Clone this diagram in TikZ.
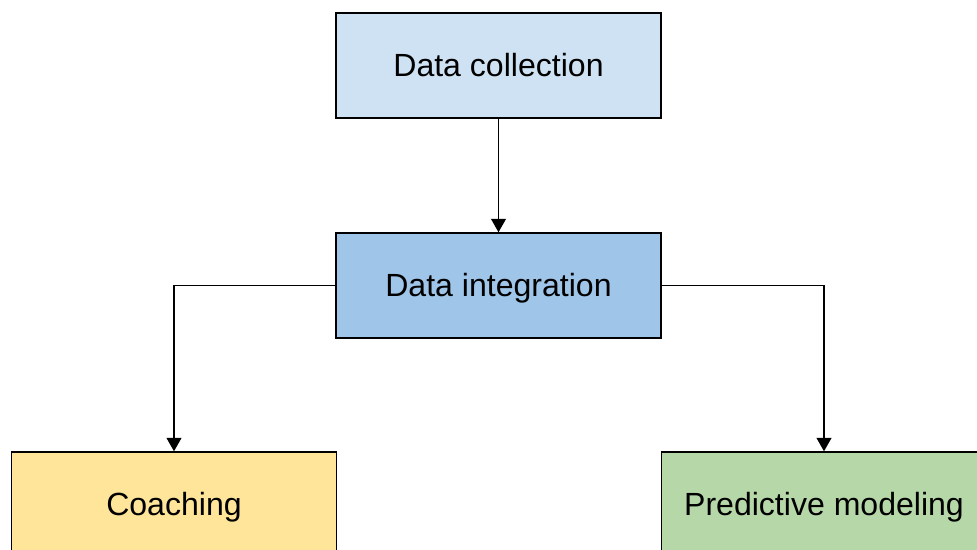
\documentclass[tikz,border=0pt]{standalone}
\usepackage{fontspec}
\setmainfont{Liberation Sans}
\usepackage{xcolor}
\usetikzlibrary{arrows.meta, positioning}

\definecolor{collectblue}{HTML}{CFE2F3}
\definecolor{integblue}{HTML}{9FC5E8}
\definecolor{coachyellow}{HTML}{FFE599}
\definecolor{predictgreen}{HTML}{B6D7A8}

\begin{document}
\begin{tikzpicture}[x=0.025cm, y=-0.025cm,
    stagebox/.style={draw, line width=1pt, minimum width=8.125cm, minimum height=2.625cm,
      inner sep=0pt, text height=16.3pt, text depth=0pt,
      font=\fontsize{22.8}{27}\selectfont},
    flow/.style={line width=1pt, -{Triangle[length=9.5pt, width=10.5pt]}}]
  \clip (0,0) rectangle (977,550);
  \node[stagebox, fill=collectblue] (collect) at (498.5,65.5) {Data collection};
  \node[stagebox, fill=integblue] (integ) at (498.5,285.5) {Data integration};
  \node[stagebox, fill=coachyellow] (coach) at (174,504.5) {Coaching};
  \node[stagebox, fill=predictgreen] (predict) at (824,504.5) {Predictive modeling};
  \draw[flow] (collect) -- (integ);
  \draw[flow] (integ.west) -| (coach.north);
  \draw[flow] (integ.east) -| (predict.north);
\end{tikzpicture}
\end{document}
